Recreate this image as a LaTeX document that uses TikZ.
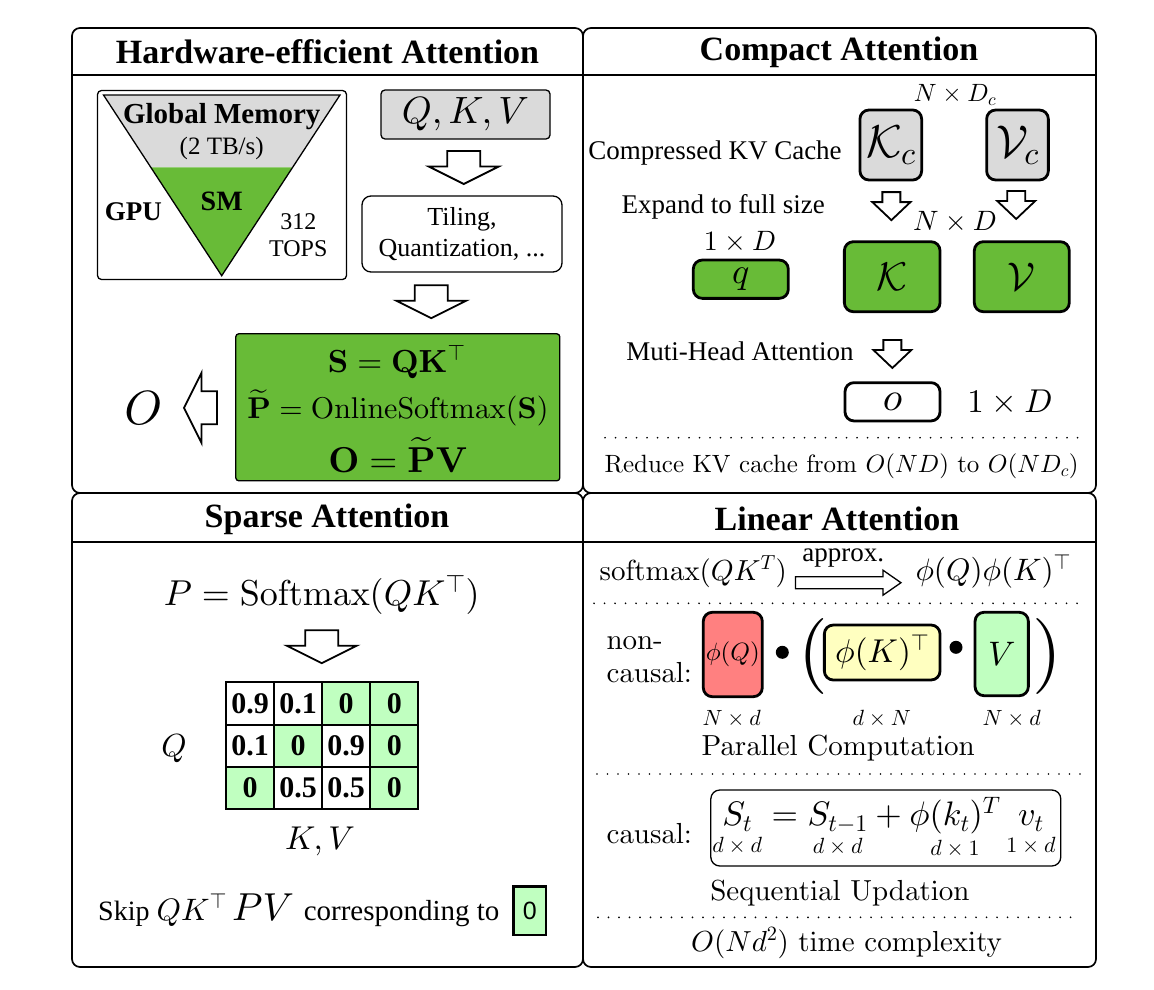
\documentclass[tikz,border=0pt]{standalone}
\usepackage{amsmath}
\usepackage[no-math]{fontspec}
\newfontfamily\geo{Liberation Serif}
\newfontfamily\helv{Liberation Sans}
% let the Computer Modern fonts scale to any size
\DeclareFontFamily{OML}{cmm}{\skewchar\font127}
\DeclareFontShape{OML}{cmm}{m}{it}{<->cmmi10}{}
\DeclareFontShape{OML}{cmm}{b}{it}{<->cmmib10}{}
\DeclareFontFamily{OMS}{cmsy}{\skewchar\font48}
\DeclareFontShape{OMS}{cmsy}{m}{n}{<->cmsy10}{}
\DeclareFontShape{OMS}{cmsy}{b}{n}{<->cmbsy10}{}
\DeclareFontFamily{OMX}{cmex}{}
\DeclareFontShape{OMX}{cmex}{m}{n}{<->cmex10}{}
\DeclareFontFamily{OT1}{cmr}{\hyphenchar\font45}
\DeclareFontShape{OT1}{cmr}{m}{n}{<->cmr10}{}
\DeclareFontShape{OT1}{cmr}{bx}{n}{<->cmbx10}{}
\newcommand{\cmrm}{\fontencoding{OT1}\fontfamily{cmr}\selectfont}
\usepackage{tikz}
\usetikzlibrary{calc}
\definecolor{Grn}{RGB}{104,187,55}
\definecolor{LGrn}{RGB}{192,255,192}
\definecolor{Gry}{RGB}{218,218,218}
\definecolor{Rd}{RGB}{255,128,128}
\definecolor{Ylw}{RGB}{255,255,192}
\newcommand{\fsz}[1]{\fontsize{#1}{#1}\selectfont}
\tikzset{
  panel/.style={draw, line width=1.7pt, rounded corners=8pt},
  ttl/.style={font=\geo\bfseries\fsz{34}},
  gtxt/.style={font=\geo\fsz{27}},
  cmtxt/.style={font=\cmrm\fsz{29}},
  box/.style={draw, line width=1.3pt, rounded corners=5pt, inner sep=0pt},
  fatbox/.style={draw, line width=2.8pt, rounded corners=9pt, inner sep=0pt},
  cell/.style={draw, line width=2pt, minimum width=48pt, minimum height=42.3pt,
               inner sep=0pt, font=\geo\bfseries\fsz{30}},
  dotsep/.style={line width=1.9pt, line cap=round, dash pattern=on 0pt off 10.5pt},
  hollow/.style={draw, fill=white, line width=1.8pt, line join=miter},
  bigdn/.pic={\draw[hollow] (-16.5,-16.5) -- (16.5,-16.5) -- (16.5,-1) -- (35,-1)
               -- (0,16.5) -- (-35,-1) -- (-16.5,-1) -- cycle;},
  smalldn/.pic={\draw[hollow] (-9,-14) -- (9,-14) -- (9,-4) -- (19,-4)
               -- (0,14) -- (-19,-4) -- (-9,-4) -- cycle;}
}
\newcommand{\dimlab}[1]{\mbox{\fsz{22}$#1$}}

\begin{document}
\begin{tikzpicture}[x=1pt, y=-1pt]
\useasboundingbox (0,0) rectangle (1154,990);

% the four panels
\draw[panel] (72,28) rectangle (583,493);
\draw[panel] (583,28) rectangle (1096,493);
\draw[panel] (72,493) rectangle (583,967);
\draw[panel] (583,493) rectangle (1096,967);
\draw[line width=1.7pt] (72,75) -- (1096,75);
\draw[line width=1.7pt] (72,542) -- (1096,542);
\node[ttl] (hwt) at (327.5,52) {Hardware-efficient Attention};
\node[ttl] (cpt) at (839,52) {Compact Attention};
\node[ttl] (spt) at (327,519) {Sparse Attention};
\node[ttl] (lnt) at (837,519) {Linear Attention};

% hardware-efficient attention
\node[box, rounded corners=4pt, minimum width=249pt, minimum height=189pt] (gpubox) at (222,185) {};
\coordinate (tl) at (103.5,95);
\coordinate (tr) at (340,95);
\coordinate (ap) at (221.7,275.7);
\fill[Gry] (tl) -- (tr) -- ($(tr)!0.4!(ap)$) -- ($(tl)!0.4!(ap)$) -- cycle;
\fill[Grn] ($(tl)!0.4!(ap)$) -- ($(tr)!0.4!(ap)$) -- (ap) -- cycle;
\draw[line width=1.3pt, line join=miter] (tl) -- (tr) -- (ap) -- cycle;
\node[font=\geo\bfseries\fsz{29}] (gmem) at (221.7,117) {Global Memory};
\node[font=\geo\fsz{25}] (bw) at (221.7,148.3) {(2 TB/s)};
\node[font=\geo\bfseries\fsz{28}] (sm) at (221.7,201.7) {SM};
\node[font=\geo\bfseries\fsz{27}] (gpu) at (133.3,211.7) {GPU};
\node[font=\geo\fontsize{24}{27}\selectfont, align=center] (tops) at (298.3,235) {312\\TOPS};

\node[box, rounded corners=4pt, fill=Gry, minimum width=169pt, minimum height=49pt] (qkv) at (465.5,114.5) {\fsz{38}$Q,K,V$};
\node[box, rounded corners=9pt, minimum width=200pt, minimum height=76pt, align=center,
      font=\geo\fontsize{26}{31}\selectfont] (tiling) at (462,234) {Tiling,\\Quantization, ...};
\node[box, rounded corners=3pt, fill=Grn, minimum width=324pt, minimum height=147pt] (flash) at (397.8,407.3) {};
\node[inner sep=0pt] (s1) at (396.7,362) {\fsz{32}$\mathbf{S}=\mathbf{Q}\mathbf{K}^{\top}$};
\node[inner sep=0pt] (s2) at (398,408) {\fsz{30}$\widetilde{\mathbf{P}}=\mathrm{OnlineSoftmax}(\mathbf{S})$};
\node[inner sep=0pt] (s3) at (398,455) {\fsz{36}$\mathbf{O}=\widetilde{\mathbf{P}}\mathbf{V}$};
\node (obig) at (143.3,408.3) {\fsz{48}$O$};
\pic at ($(qkv.south)!0.5!(tiling.north)$) {bigdn};
\pic at ($(tiling.south)!0.48!(flash.north)$) {bigdn};
\pic[rotate=-90] at ($(obig.east)!0.5!(flash.west)$) {bigdn};

% compact attention
\node (ndc) at (955,95) {\fsz{25}$N\times D_c$};
\node[fatbox, fill=Gry, minimum width=61.7pt, minimum height=70pt] (kc) at (890.8,145) {\fsz{46}$\mathcal{K}_c$};
\node[fatbox, fill=Gry, minimum width=61.7pt, minimum height=70pt] (vc) at (1017.5,145) {\fsz{46}$\mathcal{V}_c$};
\node[gtxt] (ckv) at (715,153.3) {Compressed KV Cache};
\node[gtxt] (expand) at (723.3,206.7) {Expand to full size};
\node (nd) at (955,221.7) {\fsz{28}$N\times D$};
\node (oned) at (740,241.7) {\fsz{28}$1\times D$};
\node[fatbox, fill=Grn, minimum width=95pt, minimum height=38.3pt] (qb) at (740.8,279.2) {\fsz{36}$q$};
\node[fatbox, fill=Grn, minimum width=95.7pt, minimum height=70pt] (kb) at (892.2,276.7) {\fsz{40}$\mathcal{K}$};
\node[fatbox, fill=Grn, minimum width=95pt, minimum height=70pt] (vb) at (1021.8,276.7) {\fsz{40}$\mathcal{V}$};
\node[gtxt] (mha) at (740,351.7) {Muti-Head Attention};
\node[fatbox, minimum width=95pt, minimum height=38.3pt] (ob) at (892.5,401.8) {\fsz{40}$o$};
\node (oned2) at (1010,402.7) {\fsz{33}$1\times D$};
\pic at ($(kc.south)!0.42!(kb.north)$) {smalldn};
\pic at ($(vc.south)!0.4!(vb.north)+(-3,0)$) {smalldn};
\pic at ($(kb.south)!0.6!(ob.north)$) {smalldn};
\draw[dotsep] (605,437.7) -- (1084,437.7);
\node[font=\cmrm\fsz{25}] (reduce) at (841.7,466.7) {Reduce KV cache from $O(ND)$ to $O(ND_c)$};

% sparse attention
\node (psm) at (321.7,595) {\fsz{36}$P=\mathrm{Softmax}(QK^{\top})$};
\node[cell] (m11) at (250,703.5) {0.9};
\node[cell] (m12) at (298.1,703.5) {0.1};
\node[cell, fill=LGrn] (m13) at (346.2,703.5) {0};
\node[cell, fill=LGrn] (m14) at (394.3,703.5) {0};
\node[cell] (m21) at (250,745.8) {0.1};
\node[cell, fill=LGrn] (m22) at (298.1,745.8) {0};
\node[cell] (m23) at (346.2,745.8) {0.9};
\node[cell, fill=LGrn] (m24) at (394.3,745.8) {0};
\node[cell, fill=LGrn] (m31) at (250,788.1) {0};
\node[cell] (m32) at (298.1,788.1) {0.5};
\node[cell] (m33) at (346.2,788.1) {0.5};
\node[cell, fill=LGrn] (m34) at (394.3,788.1) {0};
\pic at ($(psm.south)!0.45!(m12.north -| psm.south)$) {bigdn};
\node (qlab) at (174,748.3) {\fsz{32}$Q$};
\node (kvlab) at (320,841.7) {\fsz{33}$K,V$};
\node[anchor=base west, inner sep=0pt] (skip) at (98,920)
  {\geo\fsz{28}Skip \fsz{31}$QK^{\top}$\,\fsz{39}$PV$ \geo\fsz{29}corresponding to};
\node[draw, line width=2.4pt, fill=LGrn, minimum width=32.7pt, minimum height=48.3pt,
      inner sep=0pt, font=\helv\fsz{25}] (zero) at (529.7,910.8) {0};

% linear attention
\node[cmtxt] (smx) at (693.3,571.7) {softmax$(QK^T)$};
\node (phiqk) at (993.3,571.7) {\fsz{31}$\phi(Q)\phi(K)^{\top}$};
\coordinate (a0) at ($(smx.east)+(5,11)$);
\coordinate (a1) at ($(phiqk.west)+(-11,11)$);
\draw[hollow, line width=1.3pt] ($(a0)+(0,-6)$) -- ($(a1)+(-18,-6)$) -- ($(a1)+(-18,-12.5)$)
  -- (a1) -- ($(a1)+(-18,12.5)$) -- ($(a1)+(-18,6)$) -- ($(a0)+(0,6)$) -- cycle;
\node[gtxt] (approx) at (843.3,558.3) {approx.};
\draw[dotsep] (594,603.3) -- (1084,603.3);
\node[anchor=west, align=left, font=\cmrm\fontsize{29}{33}\selectfont] (nc) at (603,660) {non-\\causal:};
\node[fatbox, fill=Rd, minimum width=59pt, minimum height=84.4pt] (phq) at (732.8,654.5) {\fsz{25}$\phi(Q)$};
\node[circle, fill, minimum size=13pt, inner sep=0pt] (dot1) at (782.3,652.3) {};
\node[font=\cmrm\fsz{76}, inner sep=0pt] (lpar) at (813.3,656) {(};
\node[fatbox, fill=Ylw, minimum width=115.7pt, minimum height=55pt] (phk) at (882.2,652.5) {\fsz{33}$\phi(K)^{\top}$};
\node[circle, fill, minimum size=13pt, inner sep=0pt] (dot2) at (956,647.3) {};
\node[fatbox, fill=LGrn, minimum width=53.3pt, minimum height=83.4pt] (vv) at (1001.7,654) {\fsz{34}$V$};
\node[font=\cmrm\fsz{76}, inner sep=0pt] (rpar) at (1047.5,656) {)};
\node (d1) at (731.7,718.3) {\fsz{22}$N\times d$};
\node (d2) at (881.7,718.3) {\fsz{22}$d\times N$};
\node (d3) at (1011.7,718.3) {\fsz{22}$N\times d$};
\node[cmtxt] (par) at (838.3,748.3) {Parallel Computation};
\draw[dotsep] (597,774) -- (1084,774);
\node[cmtxt, anchor=west] (cs) at (603,833.3) {causal:};
\node[box, rounded corners=9pt, minimum width=350pt, minimum height=76pt] (upd) at (885.8,828) {};
\node[inner sep=0pt] (eq) at (884,829)
  {\fsz{34}$\underset{\dimlab{d\times d}}{S_t}=\underset{\dimlab{d\times d}}{S_{t-1}}+\underset{\dimlab{d\times 1}}{\phi(k_t)^T}\,\underset{\dimlab{1\times d}}{v_t}$};
\node[cmtxt] (seq) at (840,893.3) {Sequential Updation};
\draw[dotsep] (598,917.3) -- (1077,917.3);
\node[cmtxt] (cplx) at (846.7,943.3) {$O(Nd^2)$ time complexity};
\end{tikzpicture}
\end{document}
